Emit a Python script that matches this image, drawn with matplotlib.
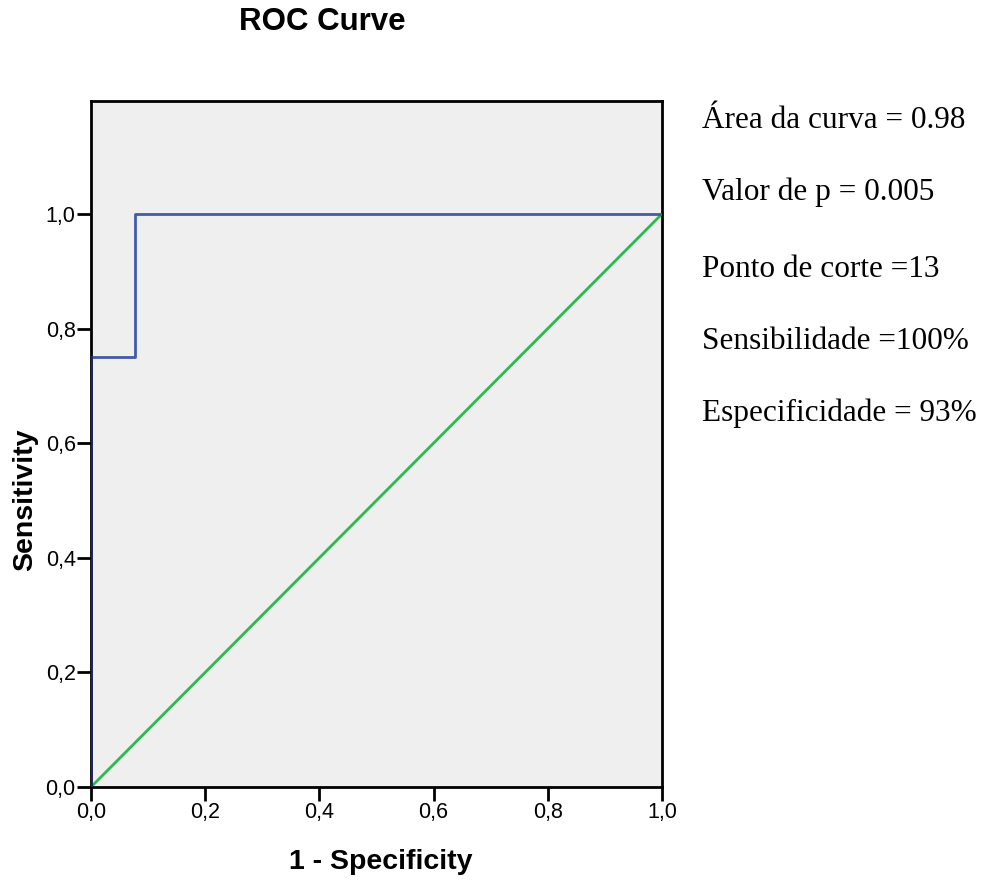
import numpy as np
import matplotlib
matplotlib.use("Agg")
import matplotlib.pyplot as plt

# --- data: ROC curve points (1 - specificity, sensitivity)
fpr = [0.0, 0.0, 0.077, 0.077, 1.0]
tpr = [0.0, 0.75, 0.75, 1.0, 1.0]
ref_x = [0.0, 1.0]
ref_y = [0.0, 1.0]
ticks = [0.0, 0.2, 0.4, 0.6, 0.8, 1.0]
tick_labels = ["0,0", "0,2", "0,4", "0,6", "0,8", "1,0"]
notes = ["Área da curva = 0.98",
         "Valor de p = 0.005",
         "Ponto de corte =13",
         "Sensibilidade =100%",
         "Especificidade = 93%"]

plt.rcParams['font.family'] = ['Liberation Sans', 'DejaVu Sans']

fig = plt.figure(figsize=(9.85, 8.81), dpi=100)
ax = fig.add_axes([91/985, 1 - 787/881, (662-91)/985, (787-101)/881])
ax.set_facecolor('#efefef')

ax.plot(ref_x, ref_y, color='#2db94d', lw=2, zorder=2)
ax.plot(fpr, tpr, color='#3f5bab', lw=2, zorder=3)
ax.plot([0, 0], [0, 0.75], color='#1a2560', lw=2, zorder=4)

ax.set_xlim(0, 1.0)
ax.set_ylim(0, 1.197)
ax.set_xticks(ticks)
ax.set_xticklabels(tick_labels)
ax.set_yticks(ticks)
ax.set_yticklabels(tick_labels)
ax.tick_params(direction='out', length=10, width=2, labelsize=15.5,
               top=False, right=False, pad=1)
for sp in ax.spines.values():
    sp.set_linewidth(2)
    sp.set_color('black')

fig.text(322/985, 1 - 22/881, "ROC Curve", ha='center', va='center',
         fontsize=22.5, fontweight='bold')
fig.text(381/985, 1 - 862/881, "1 - Specificity", ha='center', va='center',
         fontsize=20.5, fontweight='bold')
fig.text(25/985, 1 - 500/881, "Sensitivity", ha='center', va='center',
         fontsize=20.5, fontweight='bold', rotation=90)

baselines = [128, 200, 277, 349, 421]
for s, yb in zip(notes, baselines):
    fig.text(702/985, 1 - yb/881, s, ha='left', va='baseline',
             fontsize=22.5, family=['Liberation Serif', 'DejaVu Serif'])

fig.savefig("out.png", dpi=100)
